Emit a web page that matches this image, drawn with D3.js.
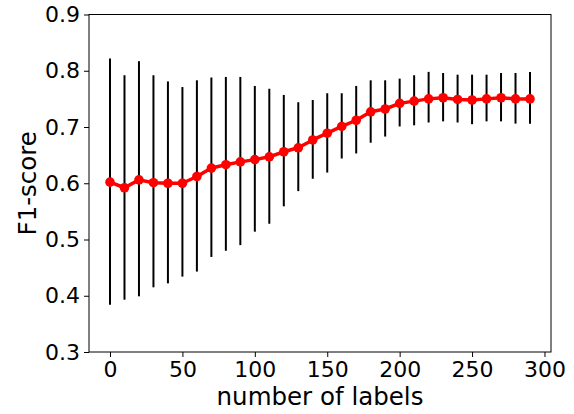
<!DOCTYPE html>
<html>
<head>
<meta charset="utf-8">
<script src="https://cdn.jsdelivr.net/npm/d3@7/dist/d3.min.js"></script>
<style>
  body { margin: 0; background: #fff; }
  text { font-family: "DejaVu Sans", sans-serif; }
</style>
</head>
<body>
<div id="chart"></div>
<script>
// number of labels on the x axis
var labelCounts = [0, 10, 20, 30, 40, 50, 60, 70, 80, 90, 100, 110, 120, 130, 140,
	150, 160, 170, 180, 190, 200, 210, 220, 230, 240, 250, 260, 270, 280, 290];
// mean F1-score
var f1Mean = [0.602, 0.592, 0.606, 0.601, 0.600, 0.600, 0.612, 0.627, 0.633, 0.638, 0.642, 0.647, 0.656, 0.663, 0.677,
	0.689, 0.701, 0.712, 0.727, 0.732, 0.742, 0.746, 0.750, 0.752, 0.749, 0.748, 0.750, 0.752, 0.750, 0.750];
// error bar ends
var f1Upper = [0.822, 0.792, 0.817, 0.792, 0.781, 0.771, 0.783, 0.788, 0.789, 0.789, 0.773, 0.768, 0.757, 0.744, 0.748,
	0.760, 0.760, 0.773, 0.783, 0.783, 0.786, 0.792, 0.798, 0.796, 0.793, 0.793, 0.793, 0.796, 0.796, 0.798];
var f1Lower = [0.384, 0.393, 0.399, 0.415, 0.422, 0.434, 0.443, 0.469, 0.480, 0.490, 0.514, 0.528, 0.559, 0.586, 0.608,
	0.619, 0.644, 0.653, 0.672, 0.683, 0.701, 0.703, 0.708, 0.710, 0.708, 0.705, 0.710, 0.710, 0.706, 0.706];
var xTicks = [0, 50, 100, 150, 200, 250, 300];
var yTicks = [0.3, 0.4, 0.5, 0.6, 0.7, 0.8, 0.9];

var width = 574, height = 414;
var margin = {left: 89, right: 23, top: 14.5, bottom: 62};

var data = labelCounts.map(function(d, i) {
	return {x: d, m: f1Mean[i], hi: f1Upper[i], lo: f1Lower[i]};
});

var svg = d3.select("#chart").append("svg")
	.attr("width", width)
	.attr("height", height);

// matplotlib style 5% margins on x
var xScale = d3.scaleLinear().domain([-14.5, 304.5]).range([margin.left, width - margin.right]);
var yScale = d3.scaleLinear().domain([0.3, 0.9]).range([height - margin.bottom, margin.top]);

// error bars
svg.selectAll(".errbar")
	.data(data)
	.enter()
	.append("line")
		.attr("class", "errbar")
		.attr("x1", function(d) { return xScale(d.x); })
		.attr("x2", function(d) { return xScale(d.x); })
		.attr("y1", function(d) { return yScale(d.lo); })
		.attr("y2", function(d) { return yScale(d.hi); })
		.style("stroke", "#000")
		.style("stroke-width", 2);

var line = d3.line()
	.x(function(d) { return xScale(d.x); })
	.y(function(d) { return yScale(d.m); });

svg.append("path")
	.datum(data)
	.attr("d", line)
	.style("fill", "none")
	.style("stroke", "#ff0000")
	.style("stroke-width", 3.5)
	.style("stroke-linejoin", "round");

svg.selectAll(".dot")
	.data(data)
	.enter()
	.append("circle")
		.attr("class", "dot")
		.attr("cx", function(d) { return xScale(d.x); })
		.attr("cy", function(d) { return yScale(d.m); })
		.attr("r", 4.8)
		.style("fill", "#ff0000");

// frame
svg.append("rect")
	.attr("x", margin.left)
	.attr("y", margin.top)
	.attr("width", width - margin.right - margin.left)
	.attr("height", height - margin.bottom - margin.top)
	.style("fill", "none")
	.style("stroke", "#000")
	.style("stroke-width", 1);

var xAxis = svg.append("g")
	.attr("transform", "translate(0," + (height - margin.bottom) + ")")
	.call(d3.axisBottom(xScale).tickValues(xTicks).tickSize(5).tickPadding(4).tickSizeOuter(0));
var yAxis = svg.append("g")
	.attr("transform", "translate(" + margin.left + ",0)")
	.call(d3.axisLeft(yScale).tickValues(yTicks).tickFormat(d3.format(".1f")).tickSize(5).tickPadding(4).tickSizeOuter(0));

[xAxis, yAxis].forEach(function(ax) {
	ax.select(".domain").remove();
	ax.selectAll("text").style("font-size", "22px").style("fill", "#000").style("font-family", "DejaVu Sans");
	ax.selectAll("line").style("stroke", "#000");
});

svg.append("text")
	.attr("x", (margin.left + width - margin.right) / 2)
	.attr("y", 405)
	.style("text-anchor", "middle")
	.style("font-size", "24.5px")
	.text("number of labels");

svg.append("text")
	.attr("transform", "translate(36," + ((margin.top + height - margin.bottom) / 2) + ") rotate(-90)")
	.style("text-anchor", "middle")
	.style("font-size", "24.5px")
	.text("F1-score");
</script>
</body>
</html>
